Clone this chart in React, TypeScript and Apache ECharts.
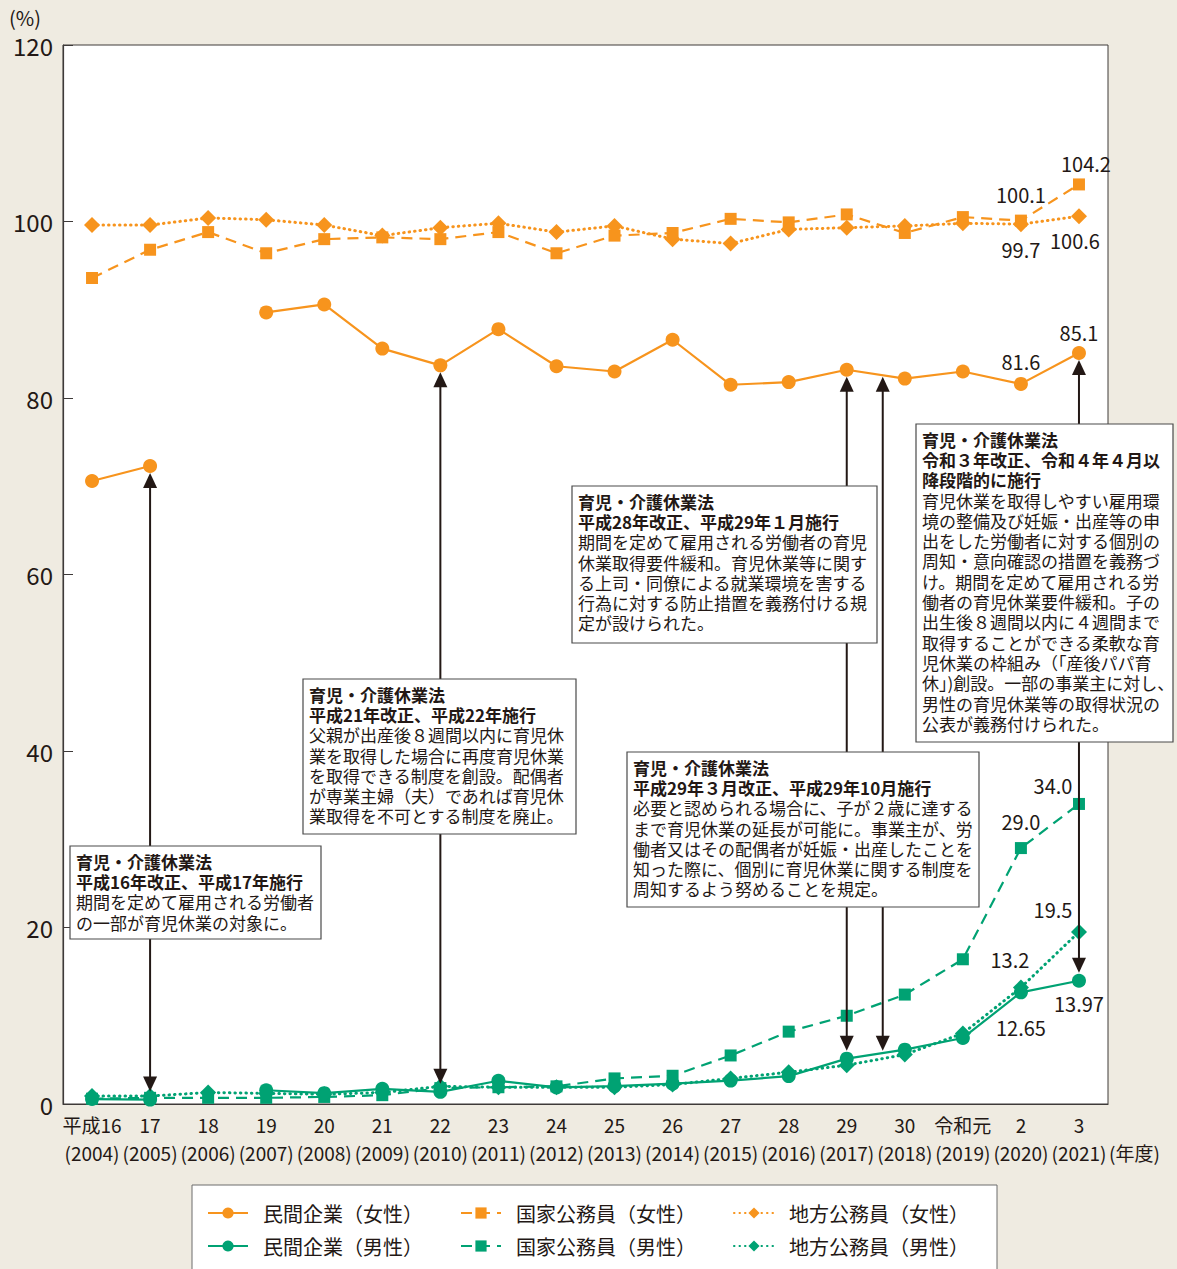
import React, { useEffect, useRef } from "react";
import * as echarts from "echarts";

// Fiscal-year categories (Japanese era label + western year)
const eraLabels = ["平成16", "17", "18", "19", "20", "21", "22", "23", "24", "25", "26", "27", "28", "29", "30", "令和元", "2", "3"];
const westernYears = ["2004", "2005", "2006", "2007", "2008", "2009", "2010", "2011", "2012", "2013", "2014", "2015", "2016", "2017", "2018", "2019", "2020", "2021"];

// Childcare leave uptake rate (%)
const privateFemale = [70.6, 72.3, null, 89.7, 90.6, 85.6, 83.7, 87.8, 83.6, 83.0, 86.6, 81.5, 81.8, 83.2, 82.2, 83.0, 81.6, 85.1];
const nationalFemale = [93.6, 96.8, 98.8, 96.4, 98.0, 98.2, 98.0, 98.8, 96.4, 98.4, 98.7, 100.3, 99.9, 100.8, 98.7, 100.5, 100.1, 104.2];
const localFemale = [99.6, 99.6, 100.4, 100.2, 99.6, 98.4, 99.3, 99.8, 98.8, 99.5, 98.0, 97.5, 99.1, 99.3, 99.5, 99.8, 99.7, 100.6];
const privateMale = [0.56, 0.5, null, 1.56, 1.23, 1.72, 1.38, 2.63, 1.89, 2.03, 2.3, 2.65, 3.16, 5.14, 6.16, 7.48, 12.65, 13.97];
const nationalMale = [0.6, 0.7, 0.7, 0.7, 0.8, 1.0, 1.8, 1.9, 2.0, 2.9, 3.2, 5.5, 8.2, 10.0, 12.4, 16.4, 29.0, 34.0];
const localMale = [0.9, 0.9, 1.3, 1.2, 1.1, 1.3, 2.0, 1.9, 1.9, 1.9, 2.2, 2.9, 3.6, 4.4, 5.6, 8.0, 13.2, 19.5];

const seriesNames = ["民間企業（女性）", "国家公務員（女性）", "地方公務員（女性）", "民間企業（男性）", "国家公務員（男性）", "地方公務員（男性）"];

// Value labels shown on the last years: [series index, data index, decimals, position, distance, dx]
const valueLabels: [number, number, number, string, number, number][] = [
  [0, 16, 1, "top", 5, 0],
  [0, 17, 1, "top", 4, 0],
  [1, 16, 1, "top", 10, 0],
  [1, 17, 1, "top", 5, 7],
  [2, 16, 1, "bottom", 7, 0],
  [2, 17, 1, "bottom", 6, -4],
  [3, 16, 2, "bottom", 18, 0],
  [3, 17, 2, "bottom", 6, 0],
  [4, 16, 1, "top", 11, 0],
  [4, 17, 1, "top", 2, -26],
  [5, 16, 1, "top", 10, -11],
  [5, 17, 1, "top", 4, -26],
];

// Law-revision notes
const notes = [
  {
    box: [70, 846, 251, 93],
    bold: ["育児・介護休業法", "平成16年改正、平成17年施行"],
    body: ["期間を定めて雇用される労働者", "の一部が育児休業の対象に。"],
  },
  {
    box: [303, 679, 273, 155],
    bold: ["育児・介護休業法", "平成21年改正、平成22年施行"],
    body: [
      "父親が出産後８週間以内に育児休",
      "業を取得した場合に再度育児休業",
      "を取得できる制度を創設。配偶者",
      "が専業主婦（夫）であれば育児休",
      "業取得を不可とする制度を廃止。",
    ],
  },
  {
    box: [572, 486, 305, 157],
    bold: ["育児・介護休業法", "平成28年改正、平成29年１月施行"],
    body: [
      "期間を定めて雇用される労働者の育児",
      "休業取得要件緩和。育児休業等に関す",
      "る上司・同僚による就業環境を害する",
      "行為に対する防止措置を義務付ける規",
      "定が設けられた。",
    ],
  },
  {
    box: [627, 752, 352, 155],
    bold: ["育児・介護休業法", "平成29年３月改正、平成29年10月施行"],
    body: [
      "必要と認められる場合に、子が２歳に達する",
      "まで育児休業の延長が可能に。事業主が、労",
      "働者又はその配偶者が妊娠・出産したことを",
      "知った際に、個別に育児休業に関する制度を",
      "周知するよう努めることを規定。",
    ],
  },
  {
    box: [916, 424, 257, 318],
    bold: ["育児・介護休業法", "令和３年改正、令和４年４月以", "降段階的に施行"],
    body: [
      "育児休業を取得しやすい雇用環",
      "境の整備及び妊娠・出産等の申",
      "出をした労働者に対する個別の",
      "周知・意向確認の措置を義務づ",
      "け。期間を定めて雇用される労",
      "働者の育児休業要件緩和。子の",
      "出生後８週間以内に４週間まで",
      "取得することができる柔軟な育",
      "児休業の枠組み（｢産後パパ育",
      "休｣)創設。一部の事業主に対し、",
      "男性の育児休業等の取得状況の",
      "公表が義務付けられた。",
    ],
  },
];

// Arrows: category index (+ fractional shift) linking female and male rates
const arrows = [
  { at: 1, shift: 0 },
  { at: 6, shift: 0 },
  { at: 13, shift: 0 },
  { at: 13, shift: 0.62 },
  { at: 17, shift: 0 },
];

const ORANGE = "#F7941D";
const GREEN = "#00A273";
const INK = "#231815";
const BG = "#EFEBE1";
const JP = "'Noto Sans CJK JP', 'Noto Sans', sans-serif";
const NOTE_LINE = 20.3;

export default function App() {
  const ref = useRef<HTMLDivElement>(null);

  useEffect(() => {
    document.body.style.margin = "0";
    const chart = echarts.init(ref.current!, null, { renderer: "svg" });

    const rawData = [privateFemale, nationalFemale, localFemale, privateMale, nationalMale, localMale];
    const colors = [ORANGE, ORANGE, ORANGE, GREEN, GREEN, GREEN];
    const symbols = ["circle", "rect", "diamond", "circle", "rect", "diamond"];
    const sizes = [14, 12, 16, 14, 12, 16];
    const dashes: any[] = ["solid", [11, 7], [0.5, 5], "solid", [11, 7], [0.5, 5]];
    const widths = [2.2, 2.2, 3, 2.2, 2.2, 3];

    const series = rawData.map((arr, s) => ({
      name: seriesNames[s],
      type: "line",
      data: arr.map((v, i) => {
        const spec = valueLabels.find((l) => l[0] === s && l[1] === i);
        if (!spec || v === null) return v;
        return {
          value: v,
          label: {
            show: true,
            position: spec[3],
            distance: spec[4],
            offset: [spec[5], 0],
            formatter: (v as number).toFixed(spec[2]),
            fontSize: 20,
            fontFamily: JP,
            color: INK,
          },
        };
      }),
      symbol: symbols[s],
      symbolSize: sizes[s],
      showAllSymbol: true,
      connectNulls: false,
      itemStyle: { color: colors[s] },
      lineStyle: {
        color: colors[s],
        width: widths[s],
        type: dashes[s],
        cap: s === 2 || s === 5 ? "round" : "butt",
      },
      z: 3,
    }));

    const legendCommon = {
      orient: "horizontal",
      left: 202,
      itemWidth: 40,
      itemHeight: 14,
      itemGap: 37,
      textStyle: { fontSize: 20, fontFamily: JP, color: INK, padding: [0, 0, 0, 10] },
    };

    chart.setOption({
      animation: false,
      backgroundColor: BG,
      textStyle: { fontFamily: JP },
      grid: {
        left: 63,
        right: 69,
        top: 45,
        bottom: 165,
        show: true,
        backgroundColor: "#ffffff",
        borderColor: "#3e3a39",
        borderWidth: 1,
      },
      legend: [
        { ...legendCommon, top: 1198, data: seriesNames.slice(0, 3) },
        { ...legendCommon, top: 1231, data: seriesNames.slice(3, 6) },
      ],
      xAxis: {
        type: "category",
        data: eraLabels,
        boundaryGap: true,
        axisLine: { lineStyle: { color: "#3e3a39", width: 1.2 } },
        axisTick: { inside: true, length: 10, alignWithLabel: true, lineStyle: { color: "#8a8a8a", width: 1 } },
        axisLabel: {
          interval: 0,
          margin: 6,
          fontSize: 19,
          lineHeight: 28,
          fontFamily: JP,
          color: INK,
          formatter: (_v: string, i: number) => `${eraLabels[i]}\n(${westernYears[i]})`,
        },
      },
      yAxis: {
        type: "value",
        min: 0,
        max: 120,
        interval: 20,
        splitLine: { show: false },
        axisLine: { show: true, lineStyle: { color: "#3e3a39", width: 1.2 } },
        axisTick: { show: true, inside: true, length: 10, lineStyle: { color: "#3e3a39" } },
        axisLabel: { fontSize: 24, fontFamily: JP, color: INK, margin: 10 },
      },
      series,
    });

    const pt = (i: number, v: number) => chart.convertToPixel({ gridIndex: 0 }, [i, v]) as number[];
    const graphics: any[] = [];

    // unit and fiscal-year captions
    graphics.push({
      type: "text",
      x: 9,
      y: 17,
      style: { text: "(%)", fontSize: 20, fontFamily: JP, fill: INK, verticalAlign: "middle" },
    });
    graphics.push({
      type: "text",
      x: 1109,
      y: 1152,
      style: { text: "(年度)", fontSize: 19, fontFamily: JP, fill: INK, verticalAlign: "middle" },
    });

    // legend frame
    graphics.push({
      type: "rect",
      z: -1,
      shape: { x: 192, y: 1185, width: 805, height: 100 },
      style: { fill: "#ffffff", stroke: "#6d6d6d", lineWidth: 1 },
    });

    // arrows
    arrows.forEach((a) => {
      const p0 = pt(a.at, 0);
      const x = a.shift ? p0[0] + a.shift * (pt(a.at + 1, 0)[0] - p0[0]) : p0[0];
      const topTip = pt(a.at, privateFemale[a.at] as number)[1] + 7;
      const botTip = pt(a.at, privateMale[a.at] as number)[1] - 8;
      const headH = 15;
      const headW = 7;
      graphics.push({
        type: "line",
        z: 20,
        shape: { x1: x, y1: topTip + headH - 2, x2: x, y2: botTip - headH + 2 },
        style: { stroke: INK, lineWidth: 2 },
      });
      graphics.push({
        type: "polygon",
        z: 20,
        shape: { points: [[x, topTip], [x - headW, topTip + headH], [x + headW, topTip + headH]] },
        style: { fill: INK },
      });
      graphics.push({
        type: "polygon",
        z: 20,
        shape: { points: [[x, botTip], [x - headW, botTip - headH], [x + headW, botTip - headH]] },
        style: { fill: INK },
      });
    });

    // note boxes, one text element per line
    notes.forEach((n) => {
      const [bx, by, bw, bh] = n.box;
      graphics.push({
        type: "rect",
        z: 30,
        shape: { x: bx, y: by, width: bw, height: bh },
        style: { fill: "#ffffff", stroke: "#4a4a4a", lineWidth: 1.2 },
      });
      const lines = [
        ...n.bold.map((t) => ({ t, bold: true })),
        ...n.body.map((t) => ({ t, bold: false })),
      ];
      lines.forEach((ln, k) => {
        graphics.push({
          type: "text",
          z: 31,
          x: bx + 6,
          y: by + 5 + NOTE_LINE * (k + 0.5),
          style: {
            text: ln.t,
            fill: INK,
            fontSize: 17,
            fontFamily: JP,
            fontWeight: ln.bold ? "bold" : "normal",
            verticalAlign: "middle",
          },
        });
      });
    });

    chart.setOption({ graphic: graphics });

    return () => chart.dispose();
  }, []);

  return <div ref={ref} style={{ width: 1177, height: 1269 }} />;
}
